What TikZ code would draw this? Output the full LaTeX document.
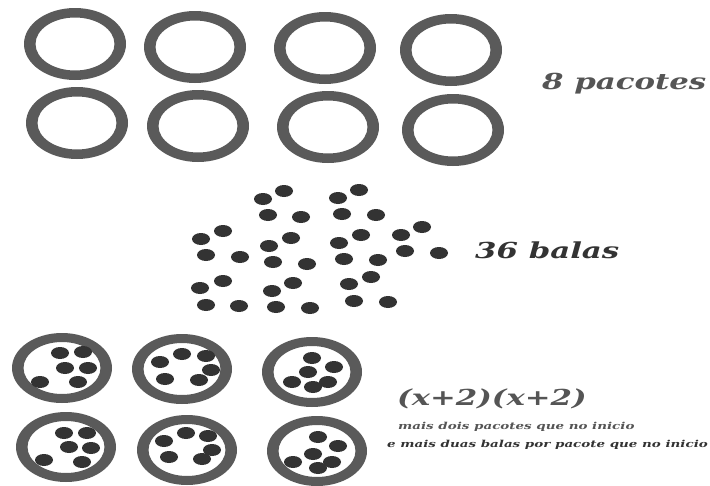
\documentclass[tikz,border=0pt]{standalone}
\usepackage{fontspec}
\setmainfont{DejaVu Serif}
\newfontfamily\wideserif[FakeStretch=1.4]{DejaVu Serif}
\usetikzlibrary{positioning}
\definecolor{ringgray}{HTML}{5A5A5A}
\definecolor{dotgray}{HTML}{333333}
\definecolor{textgray}{HTML}{555555}

\begin{document}
\begin{tikzpicture}[
  x=1pt, y=-1pt,
  pack/.style={fill=ringgray, even odd rule},
  candy/.style={fill=dotgray},
  lbl/.style={inner sep=0pt, anchor=west, text=textgray},
  big/.style={font=\wideserif\fontsize{22}{24}\selectfont\bfseries\itshape},
  small/.style={font=\wideserif\fontsize{9.6}{11}\selectfont\bfseries\itshape},
]
\useasboundingbox[fill=white] (0,0) rectangle (710,485);
% 8 pacotes vazios
\foreach \cx/\cy in {75/44,195/47,325/48,451/50,77/123,198/126,328/127,453/130}
  \fill[pack] (\cx,\cy) ellipse [x radius=51, y radius=36]
              (\cx,\cy) ellipse [x radius=39.5, y radius=26.5];
\node[lbl, big] (pacotes) at (542,84) {8 pacotes};
% 36 balas soltas
\foreach \bx/\by in {263/199,284/191,268/215,301/217,338/198,359/190,342/214,376/215,
  201/239,223/231,206/255,240/257,269/246,291/238,273/262,307/264,
  339/243,361/235,344/259,378/260,401/235,422/227,405/251,439/253,
  200/288,223/281,206/305,239/306,272/291,293/283,276/307,310/308,
  349/284,371/277,354/301,388/302}
  \fill[candy] (\bx,\by) ellipse [x radius=9, y radius=6];
\node[lbl, big, text=dotgray] (balas) at (475,250) {36 balas};
% 6 pacotes com 6 balas
\foreach \cx/\cy in {62/368,182/369,312/372,66/447,187/450,317/451}
  \fill[pack] (\cx,\cy) ellipse [x radius=50, y radius=35]
              (\cx,\cy) ellipse [x radius=38.5, y radius=26];
\foreach \bx/\by in {60/353,83/352,65/368,88/368,40/382,78/382,
  182/354,206/356,160/362,211/370,165/379,199/380,
  312/358,334/367,308/372,292/382,328/382,313/387,
  64/433,87/433,69/447,91/448,44/460,82/462,
  186/433,208/436,164/441,212/450,169/457,202/459,
  318/437,338/446,313/454,293/462,332/462,318/468}
  \fill[candy] (\bx,\by) ellipse [x radius=9, y radius=6];
\node[lbl, big] (produto) at (397,399) {(x+2)(x+2)};
\node[lbl, small] (pacmais) at (398,427) {mais dois pacotes que no inicio};
\node[lbl, small, text=dotgray] (balmais) at (387,445) {e mais duas balas por pacote que no inicio};
\end{tikzpicture}
\end{document}
